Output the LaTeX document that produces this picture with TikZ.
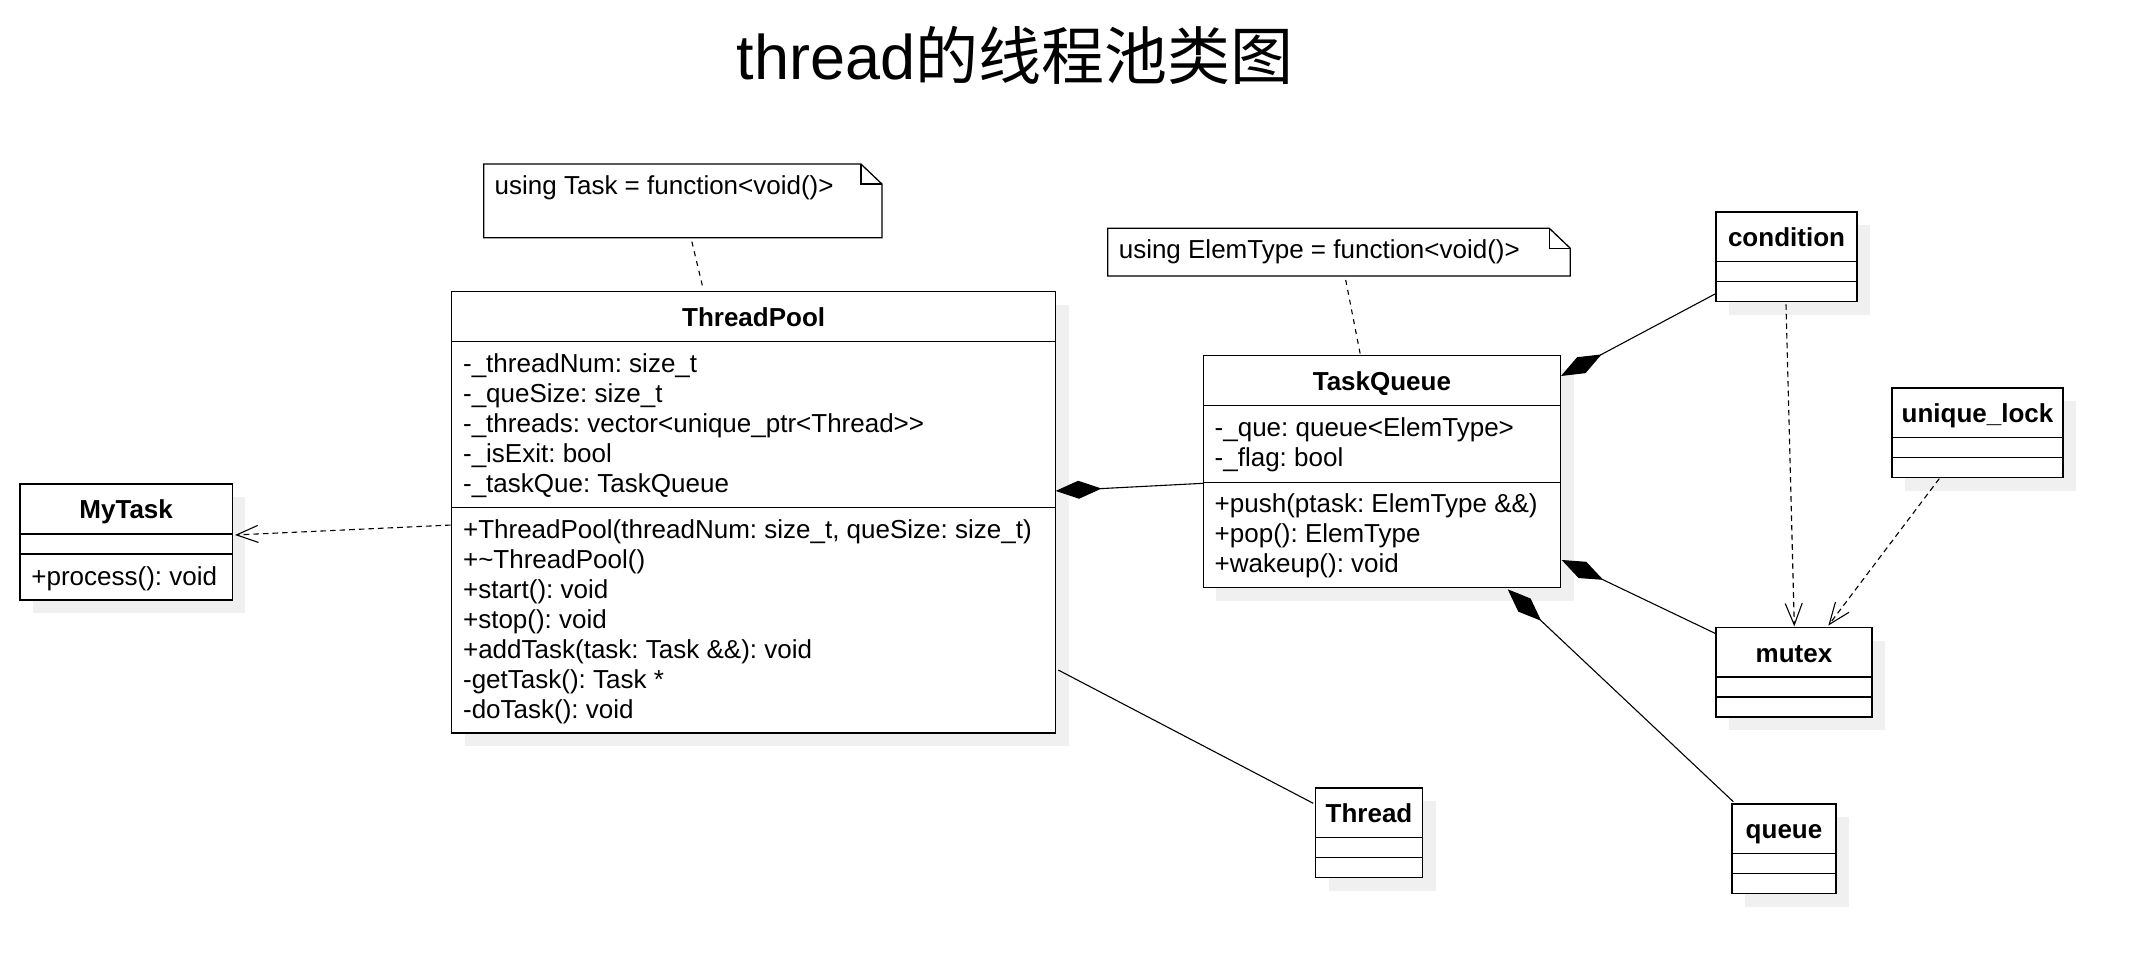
\documentclass[tikz,border=0pt]{standalone}
\usepackage{fontspec}
\setmainfont{Liberation Sans}
\newfontfamily\cjk{Noto Sans CJK SC}
\frenchspacing
\usetikzlibrary{arrows.meta,calc,shadows}

\begin{document}
\begin{tikzpicture}[x=0.5pt,y=0.5pt,yscale=-1,
	umlclass/.style={draw, line width=0.65pt, fill=white, inner sep=0, outer sep=0, anchor=north west,
		drop shadow={shadow xshift=6.5pt, shadow yshift=-6.5pt, fill=black!6, opacity=1}},
	classname/.style={anchor=base, inner sep=0, font=\fontsize{13}{15}\selectfont\bfseries},
	members/.style={anchor=north west, align=left, inner sep=0, font=\fontsize{13}{15}\selectfont, execute at begin node=\strut},
	notearea/.style={anchor=north west, inner sep=0, outer sep=0},
	notetext/.style={anchor=base west, inner sep=0, font=\fontsize{13}{15}\selectfont},
	sep/.style={line width=0.65pt},
	comp/.style={line width=0.55pt, arrows={Diamond[length=23pt,width=9pt]-}},
	assoc/.style={line width=0.55pt},
	dep/.style={line width=0.55pt, dash pattern=on 2.8pt off 2pt, arrows={-Straight Barb[length=10.8pt,width=8.5pt]}},
	notelink/.style={line width=0.55pt, dash pattern=on 2.5pt off 2.5pt}]
	\useasboundingbox (0,0) rectangle (2144,974);
	\node (title) [anchor=base, inner sep=0, font=\fontsize{31.5}{36}\selectfont] at (1015,80) {thread{\cjk 的线程池类图}};

	\node (mytask) [umlclass, minimum width=106.15pt, minimum height=58pt] at (20,484) {};
	\node (tp) [umlclass, minimum width=301.95pt, minimum height=220.65pt] at (451.7,291.7) {};
	\node (tq) [umlclass, minimum width=178.6pt, minimum height=116.1pt] at (1203.3,355.6) {};
	\node (cond) [umlclass, minimum width=70.5pt, minimum height=44.75pt] at (1716,212) {};
	\node (ulock) [umlclass, minimum width=85.5pt, minimum height=44.75pt] at (1892,388) {};
	\node (mutex) [umlclass, minimum width=78pt, minimum height=44.75pt] at (1716,627.6) {};
	\node (thread) [umlclass, minimum width=53.5pt, minimum height=44.75pt] at (1315.5,788) {};
	\node (queue) [umlclass, minimum width=52pt, minimum height=44.75pt] at (1732,804) {};

	\draw[sep] ($(mytask.north west)+(0,50)$) -- ($(mytask.north east)+(0,50)$);
	\draw[sep] ($(mytask.north west)+(0,70)$) -- ($(mytask.north east)+(0,70)$);
	\node (mytaskname) [classname] at ($(mytask.north)+(0,34.5)$) {MyTask};
	\node (mytaskops) [members] at ($(mytask.north west)+(11,80)$) {+process(): void};

	\draw[sep] ($(tp.north west)+(0,50)$) -- ($(tp.north east)+(0,50)$);
	\draw[sep] ($(tp.north west)+(0,216)$) -- ($(tp.north east)+(0,216)$);
	\node (tpname) [classname] at ($(tp.north)+(0,34.5)$) {ThreadPool};
	\node (tpattr) [members] at ($(tp.north west)+(11,61.5)$) {-\_threadNum: size\_t\\-\_queSize: size\_t\\-\_threads: vector<unique\_ptr<Thread>{}>\\-\_isExit: bool\\-\_taskQue: TaskQueue};
	\node (tpops) [members] at ($(tp.north west)+(11,227.5)$) {+ThreadPool(threadNum: size\_t, queSize: size\_t)\\+\textasciitilde ThreadPool()\\+start(): void\\+stop(): void\\+addTask(task: Task \&\&): void\\-getTask(): Task *\\-doTask(): void};

	\draw[sep] ($(tq.north west)+(0,50)$) -- ($(tq.north east)+(0,50)$);
	\draw[sep] ($(tq.north west)+(0,126.6)$) -- ($(tq.north east)+(0,126.6)$);
	\node (tqname) [classname] at ($(tq.north)+(0,34.5)$) {TaskQueue};
	\node (tqattr) [members] at ($(tq.north west)+(11,61.5)$) {-\_que: queue<ElemType>\\-\_flag: bool};
	\node (tqops) [members] at ($(tq.north west)+(11,138)$) {+push(ptask: ElemType \&\&)\\+pop(): ElemType\\+wakeup(): void};

	\foreach \c/\t in {cond/condition, ulock/unique\_lock, mutex/mutex, thread/Thread, queue/queue} {
		\draw[sep] ($(\c.north west)+(0,49.5)$) -- ($(\c.north east)+(0,49.5)$);
		\draw[sep] ($(\c.north west)+(0,69.5)$) -- ($(\c.north east)+(0,69.5)$);
		\node (\c name) [classname] at ($(\c.north)+(0,34.5)$) {\t};
	}

	\node (tasknote) [notearea, minimum width=199.15pt, minimum height=36.85pt] at (483.7,164.1) {};
	\draw[sep, fill=white] (tasknote.north west) -- ($(tasknote.north east)+(-21,0)$) -- ($(tasknote.north east)+(0,20)$) -- (tasknote.south east) -- (tasknote.south west) -- cycle;
	\draw[sep] ($(tasknote.north east)+(-21,0)$) -- ++(0,20) -- ++(21,0);
	\node (tasknotetext) [notetext] at ($(tasknote.north west)+(10.6,30)$) {using Task = function<void()>};

	\node (elemnote) [notearea, minimum width=231.3pt, minimum height=23.85pt] at (1107.7,228.3) {};
	\draw[sep, fill=white] (elemnote.north west) -- ($(elemnote.north east)+(-21,0)$) -- ($(elemnote.north east)+(0,20)$) -- (elemnote.south east) -- (elemnote.south west) -- cycle;
	\draw[sep] ($(elemnote.north east)+(-21,0)$) -- ++(0,20) -- ++(21,0);
	\node (elemnotetext) [notetext] at ($(elemnote.north west)+(10.7,30)$) {using ElemType = function<void()>};

	\draw[notelink] ($(tasknote.south)+(9,3.8)$) -- ($(tp.north)+(-50.4,-2.4)$);
	\draw[notelink] ($(elemnote.south)+(6.7,4)$) -- ($(tq.north)+(-21.7,-1.6)$);
	\draw[dep] ($(tp.west)+(-1,12.7)$) -- ($(mytask.east)+(2.7,-7)$);
	\draw[comp] ($(tp.east)+(0,-21.4)$) -- ($(tq.west)+(0,11.6)$);
	\draw[assoc] ($(tp.east)+(2.7,157.7)$) -- ($(thread.west)+(-2.2,-29.4)$);
	\draw[comp] ($(tq.north east)+(0.5,20.4)$) -- ($(cond.south west)+(-1,-7.5)$);
	\draw[comp] ($(tq.south east)+(1.2,-27.8)$) -- ($(mutex.north west)+(-1,5.7)$);
	\draw[comp] ($(tq.south east)+(-52.8,1.5)$) -- ($(queue.north west)+(1.3,-2.3)$);
	\draw[dep] ($(cond.south)+(-0.5,2.8)$) -- ($(mutex.north)+(0.3,-1.2)$);
	\draw[dep] ($(ulock.south)+(-38.2,1.1)$) -- ($(mutex.north)+(34.3,-2)$);
\end{tikzpicture}
\end{document}
